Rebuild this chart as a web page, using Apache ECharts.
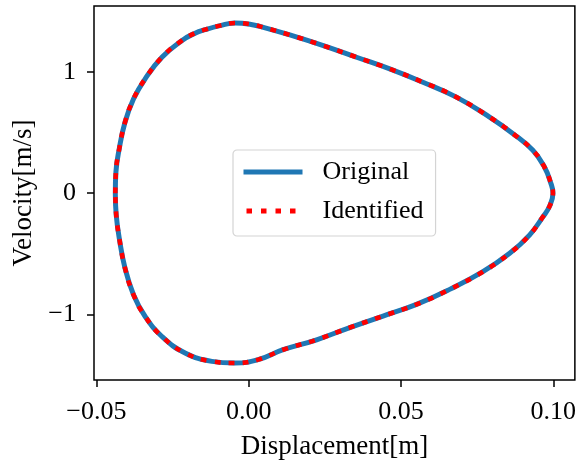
<!DOCTYPE html>
<html>
<head>
<meta charset="utf-8">
<script src="https://cdn.jsdelivr.net/npm/echarts@6/dist/echarts.min.js"></script>
<style>
  html, body { margin: 0; padding: 0; background: #fff; }
  #chart { width: 579px; height: 466px; }
</style>
</head>
<body>
<div id="chart"></div>
<script>
// upper half of the loop, left to right (velocity > 0)
const upperDisp = [-0.0438, -0.0436, -0.0425, -0.0406, -0.0378, -0.0340, -0.0285, -0.0220, -0.0176, -0.0143, -0.0094,
  -0.0045, 0.0004, 0.0048, 0.0135, 0.0245, 0.0354, 0.0463, 0.0572, 0.0682, 0.0791, 0.0868, 0.0933, 0.0971, 0.0991, 0.0999];
const upperVel = [0, 0.175, 0.368, 0.587, 0.779, 0.944, 1.122, 1.259, 1.321, 1.350, 1.383,
  1.405, 1.395, 1.369, 1.306, 1.218, 1.122, 1.026, 0.916, 0.793, 0.628, 0.491, 0.354, 0.216, 0.091, 0];

// lower half, right to left (velocity < 0)
const lowerDisp = [0.0988, 0.0966, 0.0922, 0.0857, 0.0769, 0.0660, 0.0551, 0.0441, 0.0332, 0.0223, 0.0113,
  0.0031, -0.0045, -0.0121, -0.0209, -0.0285, -0.0340, -0.0378, -0.0406, -0.0425, -0.0435, -0.0438];
const lowerVel = [-0.107, -0.195, -0.346, -0.496, -0.648, -0.794, -0.918, -1.014, -1.109, -1.210, -1.292,
  -1.374, -1.402, -1.388, -1.319, -1.183, -1.018, -0.840, -0.620, -0.373, -0.181, 0];

const xTicks = [-0.05, 0, 0.05, 0.1];
const yTicks = [-1, 0, 1];

const loop = upperDisp.map((x, i) => [x, upperVel[i]])
  .concat(lowerDisp.map((x, i) => [x, lowerVel[i]]));

const font = "'Liberation Serif', 'Times New Roman', serif";
const minus = (s) => s.replace("-", "\u2212");

const chart = echarts.init(document.getElementById("chart"), null, { renderer: "canvas" });

chart.setOption({
  animation: false,
  backgroundColor: "#fff",
  textStyle: { fontFamily: font, color: "#000" },
  grid: {
    left: 94, right: 4, top: 6, bottom: 86,
    show: true, borderColor: "#000", borderWidth: 1.5, backgroundColor: "transparent",
  },
  legend: {
    orient: "vertical",
    left: 233, top: 150,
    padding: [7, 12, 10, 8],
    itemGap: 9,
    itemWidth: 59,
    itemHeight: 14,
    backgroundColor: "#fff",
    borderColor: "#d4d4d4",
    borderWidth: 1.2,
    borderRadius: 4,
    textStyle: { fontFamily: font, fontSize: 26, color: "#000", lineHeight: 30, padding: [0, 0, 0, 15] },
    data: [
      { name: "Original", itemStyle: { opacity: 0 }, lineStyle: { color: "#1f77b4", width: 5 } },
      {
        name: "Identified", itemStyle: { opacity: 0 },
        lineStyle: { color: "#ff0000", width: 5, type: [5.5, 9], dashOffset: 11.5, cap: "butt" },
      },
    ],
  },
  xAxis: {
    type: "value",
    min: -0.0508, max: 0.1071,
    name: "Displacement[m]",
    nameLocation: "middle",
    nameGap: 53,
    nameTextStyle: { fontFamily: font, fontSize: 27, color: "#000" },
    axisLine: { show: false, onZero: false },
    axisTick: { show: true, customValues: xTicks, length: 7, lineStyle: { color: "#000", width: 1.5 } },
    axisLabel: {
      customValues: xTicks, margin: 19, fontFamily: font, fontSize: 26, color: "#000",
      formatter: (v) => minus(v.toFixed(2)),
    },
    splitLine: { show: false },
  },
  yAxis: {
    type: "value",
    min: -1.542, max: 1.545,
    name: "Velocity[m/s]",
    nameLocation: "middle",
    nameGap: 56,
    nameTextStyle: { fontFamily: font, fontSize: 27, color: "#000" },
    axisLine: { show: false, onZero: false },
    axisTick: { show: true, customValues: yTicks, length: 7, lineStyle: { color: "#000", width: 1.5 } },
    axisLabel: {
      customValues: yTicks, margin: 18, fontFamily: font, fontSize: 26, color: "#000",
      formatter: (v) => minus(String(v)),
    },
    splitLine: { show: false },
  },
  series: [
    {
      name: "Original",
      type: "line",
      data: loop,
      smooth: 0.45,
      symbol: "none",
      lineStyle: { color: "#1f77b4", width: 5 },
      itemStyle: { color: "#1f77b4" },
    },
    {
      name: "Identified",
      type: "line",
      data: loop,
      smooth: 0.45,
      symbol: "none",
      lineStyle: { color: "#ff0000", width: 4.6, type: [6, 8], cap: "butt" },
      itemStyle: { color: "#ff0000" },
    },
  ],
});
</script>
</body>
</html>
